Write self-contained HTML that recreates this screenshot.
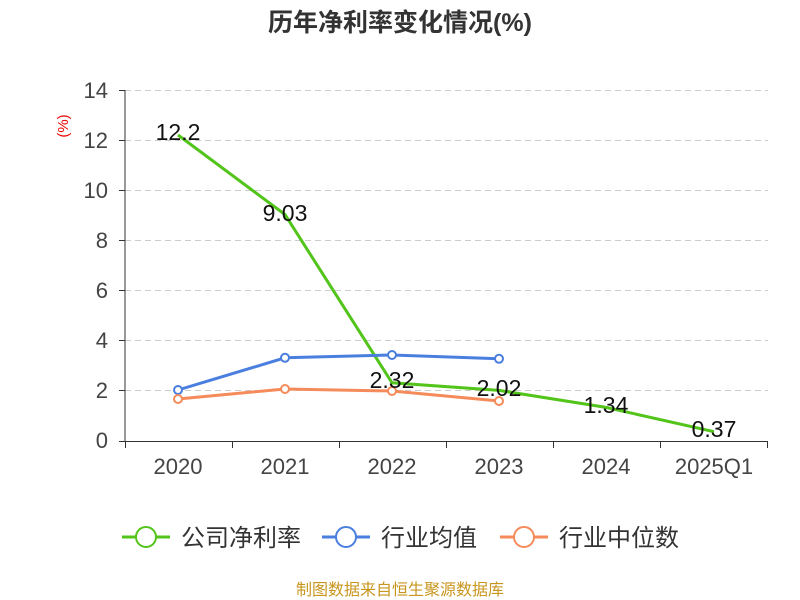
<!DOCTYPE html>
<html><head><meta charset="utf-8"><style>body{margin:0;background:#fff}svg{display:block}</style></head><body>
<svg width="800" height="600" xmlns="http://www.w3.org/2000/svg" font-family="Liberation Sans, Noto Sans CJK SC, sans-serif">
<text x="400" y="31" text-anchor="middle" font-size="25" font-weight="bold" fill="#333">历年净利率变化情况(%)</text>
<text x="68" y="126" font-size="15" fill="#e00" transform="rotate(-90 68 126)" text-anchor="middle">(%)</text>
<g stroke="#ccc" stroke-dasharray="6,4" stroke-width="1">
<line x1="125" y1="90.5" x2="768" y2="90.5"/><line x1="125" y1="140.5" x2="768" y2="140.5"/><line x1="125" y1="190.5" x2="768" y2="190.5"/><line x1="125" y1="240.5" x2="768" y2="240.5"/><line x1="125" y1="290.5" x2="768" y2="290.5"/><line x1="125" y1="340.5" x2="768" y2="340.5"/><line x1="125" y1="390.5" x2="768" y2="390.5"/>
</g>
<g stroke="#333" stroke-width="1">
<line x1="125" y1="90" x2="125" y2="441"/><line x1="125" y1="441.5" x2="768" y2="441.5"/>
<line x1="119" y1="90.5" x2="125" y2="90.5"/><line x1="119" y1="140.5" x2="125" y2="140.5"/><line x1="119" y1="190.5" x2="125" y2="190.5"/><line x1="119" y1="240.5" x2="125" y2="240.5"/><line x1="119" y1="290.5" x2="125" y2="290.5"/><line x1="119" y1="340.5" x2="125" y2="340.5"/><line x1="119" y1="390.5" x2="125" y2="390.5"/><line x1="119" y1="441.5" x2="125" y2="441.5"/>
<line x1="125.5" y1="441" x2="125.5" y2="448"/><line x1="232.5" y1="441" x2="232.5" y2="448"/><line x1="339.5" y1="441" x2="339.5" y2="448"/><line x1="446.5" y1="441" x2="446.5" y2="448"/><line x1="553.5" y1="441" x2="553.5" y2="448"/><line x1="660.5" y1="441" x2="660.5" y2="448"/><line x1="767.5" y1="441" x2="767.5" y2="448"/>
</g>
<g font-size="22" fill="#444" text-anchor="end">
<text x="108" y="98">14</text><text x="108" y="148">12</text><text x="108" y="198">10</text><text x="108" y="248">8</text><text x="108" y="298">6</text><text x="108" y="348">4</text><text x="108" y="398">2</text><text x="108" y="448">0</text>
</g>
<g font-size="22" fill="#444" text-anchor="middle">
<text x="178" y="474">2020</text><text x="285" y="474">2021</text><text x="392" y="474">2022</text><text x="499" y="474">2023</text><text x="606" y="474">2024</text><text x="714" y="474">2025Q1</text>
</g>
<polyline points="178,135 285,214.6 392,382.8 499,390.4 606,407.4 714,431.7" fill="none" stroke="#52c41a" stroke-width="3"/>
<polyline points="178,390 285,357.8 392,355 499,358.8" fill="none" stroke="#4a7fdf" stroke-width="3"/>
<polyline points="178,399 285,389 392,391 499,401" fill="none" stroke="#f58b5a" stroke-width="3"/>
<g fill="#fff" stroke-width="2">
<circle cx="178" cy="390" r="4" stroke="#4a7fdf"/><circle cx="285" cy="357.8" r="4" stroke="#4a7fdf"/><circle cx="392" cy="355" r="4" stroke="#4a7fdf"/><circle cx="499" cy="358.8" r="4" stroke="#4a7fdf"/>
<circle cx="178" cy="399" r="4" stroke="#f58b5a"/><circle cx="285" cy="389" r="4" stroke="#f58b5a"/><circle cx="392" cy="391" r="4" stroke="#f58b5a"/><circle cx="499" cy="401" r="4" stroke="#f58b5a"/>
</g>
<g font-size="23" fill="#111" text-anchor="middle">
<text x="178" y="140">12.2</text><text x="285" y="221">9.03</text><text x="392" y="388">2.32</text><text x="499" y="396">2.02</text><text x="606" y="413">1.34</text><text x="714" y="437">0.37</text>
</g>
<g font-size="24" fill="#333">
<line x1="122" y1="537" x2="170" y2="537" stroke="#52c41a" stroke-width="3"/><circle cx="146" cy="537" r="10" fill="#fff" stroke="#52c41a" stroke-width="2"/><text x="181" y="546">公司净利率</text>
<line x1="322" y1="537" x2="370" y2="537" stroke="#4a7fdf" stroke-width="3"/><circle cx="346" cy="537" r="10" fill="#fff" stroke="#4a7fdf" stroke-width="2"/><text x="381" y="546">行业均值</text>
<line x1="500" y1="537" x2="548" y2="537" stroke="#f58b5a" stroke-width="3"/><circle cx="524" cy="537" r="10" fill="#fff" stroke="#f58b5a" stroke-width="2"/><text x="559" y="546">行业中位数</text>
</g>
<text x="400" y="595" text-anchor="middle" font-size="16" fill="#c8961e">制图数据来自恒生聚源数据库</text>
</svg>
</body></html>
